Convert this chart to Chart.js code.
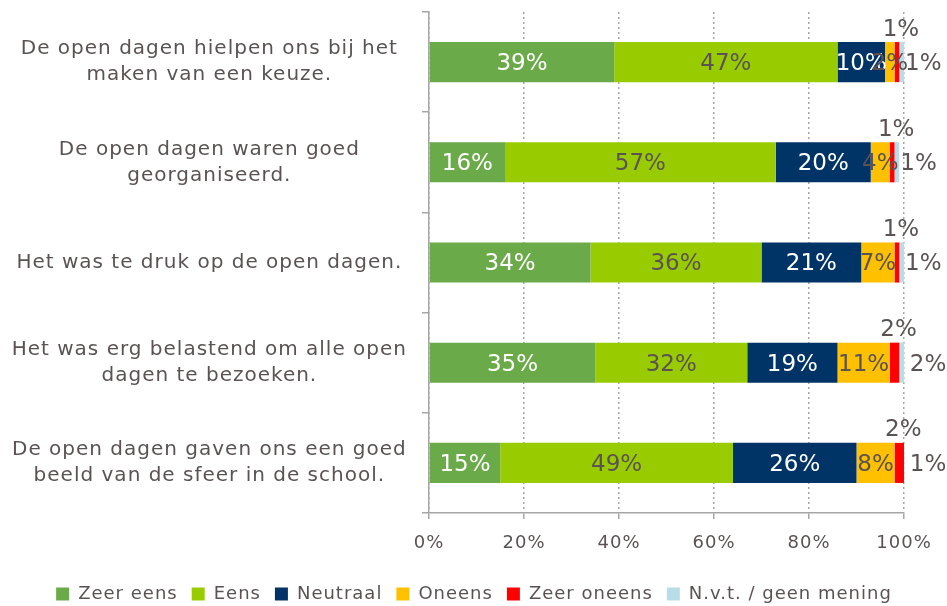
<!DOCTYPE html>
<html>
<head>
<meta charset="utf-8">
<script src="https://cdn.jsdelivr.net/npm/chart.js@4/dist/chart.umd.min.js"></script>
<style>
  html, body { margin: 0; padding: 0; background: #fff; }
  #wrap { width: 947px; height: 606px; }
</style>
</head>
<body>
<div id="wrap"><canvas id="chart"></canvas></div>
<script>
// Stellingen (y-as)
const stellingen = [
    ['De open dagen hielpen ons bij het', 'maken van een keuze.'],
    ['De open dagen waren goed', 'georganiseerd.'],
    ['Het was te druk op de open dagen.'],
    ['Het was erg belastend om alle open', 'dagen te bezoeken.'],
    ['De open dagen gaven ons een goed', 'beeld van de sfeer in de school.']
];

// Antwoorden per stelling (%)
const zeerEens   = [39, 16, 34, 35, 15];
const eens       = [47, 57, 36, 32, 49];
const neutraal   = [10, 20, 21, 19, 26];
const oneens     = [2, 4, 7, 11, 8];
const zeerOneens = [1, 1, 1, 2, 2];
const nvt        = [1, 1, 1, 2, 1];

const xTicks = [0, 20, 40, 60, 80, 100];

const tekstKleur = '#5b5353';
const lettertype = "'DejaVu Sans', Verdana, sans-serif";

// Iets bredere letters, zoals Verdana in het origineel
const spatiering = {
    id: 'spatiering',
    beforeUpdate(chart) { chart.ctx.letterSpacing = '1px'; },
    beforeDraw(chart) { chart.ctx.letterSpacing = '1px'; },
    afterLayout(chart) {
        // legenda iets naar rechts, zoals in het origineel
        chart.legend.left += 22;
        chart.legend.right += 22;
    }
};

// Labels op de balken tekenen
const labelPlugin = {
    id: 'balkLabels',
    afterDatasetsDraw(chart) {
        const ctx = chart.ctx;
        ctx.save();
        ctx.letterSpacing = '0px';
        ctx.font = '23px ' + lettertype;
        chart.data.datasets.forEach((ds, i) => {
            const meta = chart.getDatasetMeta(i);
            meta.data.forEach((bar, j) => {
                const txt = ds.data[j] + '%';
                const midX = (bar.x + bar.base) / 2;
                ctx.fillStyle = ds.labelKleur;
                if (i === 4) {
                    // zeer oneens: boven de balk
                    ctx.textAlign = 'center';
                    ctx.textBaseline = 'bottom';
                    ctx.fillText(txt, midX + 4, bar.y - bar.height / 2 - 1);
                } else if (i === 5) {
                    // n.v.t.: rechts naast de balk
                    ctx.textAlign = 'left';
                    ctx.textBaseline = 'middle';
                    ctx.fillText(txt, bar.x + 1, bar.y + 2);
                } else {
                    ctx.textAlign = 'center';
                    ctx.textBaseline = 'middle';
                    ctx.fillText(txt, midX, bar.y + 2);
                }
            });
        });
        ctx.restore();
    }
};

function maakGrafiek() {
    const ctx = document.getElementById('chart').getContext('2d');

    new Chart(ctx, {
        type: 'bar',
        data: {
            labels: stellingen,
            datasets: [
                { label: 'Zeer eens', data: zeerEens, backgroundColor: '#6aaa48', labelKleur: '#ffffff' },
                { label: 'Eens', data: eens, backgroundColor: '#99cc00', labelKleur: tekstKleur },
                { label: 'Neutraal', data: neutraal, backgroundColor: '#003366', labelKleur: '#ffffff' },
                { label: 'Oneens', data: oneens, backgroundColor: '#ffc000', labelKleur: tekstKleur },
                { label: 'Zeer oneens', data: zeerOneens, backgroundColor: '#ff0000', labelKleur: tekstKleur },
                { label: 'N.v.t. / geen mening', data: nvt, backgroundColor: '#b7dee8', labelKleur: tekstKleur }
            ]
        },
        options: {
            indexAxis: 'y',
            responsive: true,
            maintainAspectRatio: false,
            animation: false,
            layout: { padding: { top: 12, right: 43, bottom: -7, left: 0 } },
            datasets: {
                bar: { categoryPercentage: 0.40, barPercentage: 1.0, borderWidth: 0 }
            },
            scales: {
                x: {
                    stacked: true,
                    min: 0,
                    max: 100,
                    afterBuildTicks: (scale) => {
                        scale.ticks = xTicks.map(v => ({ value: v }));
                    },
                    afterFit: (scale) => { scale.height = 58; },
                    ticks: {
                        callback: (v) => v + '%',
                        color: tekstKleur,
                        font: { family: lettertype, size: 18 },
                        padding: 14,
                        maxRotation: 0
                    },
                    grid: {
                        color: '#a6a6a6',
                        lineWidth: 1.5,
                        tickLength: 6,
                        tickColor: '#a6a6a6',
                        tickBorderDash: []
                    },
                    border: { display: true, color: '#a6a6a6', width: 1.5, dash: [2, 3] }
                },
                y: {
                    stacked: true,
                    afterFit: (scale) => {
                        scale.width = 429;
                        scale.paddingTop = 0;
                        scale.paddingBottom = 0;
                    },
                    ticks: {
                        color: tekstKleur,
                        font: { family: lettertype, size: 20, lineHeight: 1.3 },
                        crossAlign: 'center',
                        padding: 15
                    },
                    grid: {
                        drawOnChartArea: false,
                        offset: true,
                        tickLength: 7,
                        color: '#a6a6a6',
                        lineWidth: 1.5
                    },
                    border: { display: true, color: '#a6a6a6', width: 1.5 }
                }
            },
            plugins: {
                legend: {
                    position: 'bottom',
                    labels: {
                        boxWidth: 13,
                        boxHeight: 13,
                        color: tekstKleur,
                        font: { family: lettertype, size: 18 },
                        padding: 14
                    }
                },
                tooltip: { enabled: false }
            }
        },
        plugins: [spatiering, labelPlugin]
    });
}

window.onload = maakGrafiek;
</script>
</body>
</html>
